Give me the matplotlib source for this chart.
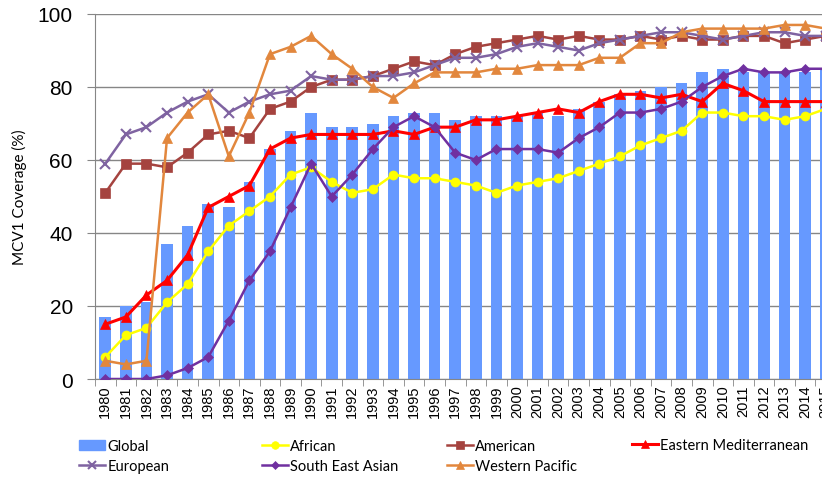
import matplotlib
matplotlib.use("Agg")
import matplotlib.pyplot as plt
from matplotlib.lines import Line2D
from matplotlib.patches import Patch

years = list(range(1980, 2016))

glob = [17, 20, 21, 37, 42, 48, 47, 54, 63, 68, 73, 69, 69, 70, 72, 73, 73, 71,
        72, 72, 72, 73, 72, 74, 76, 78, 79, 80, 81, 84, 85, 84, 84, 84, 84, 85]
african = [6, 12, 14, 21, 26, 35, 42, 46, 50, 56, 58, 54, 51, 52, 56, 55, 55, 54,
           53, 51, 53, 54, 55, 57, 59, 61, 64, 66, 68, 73, 73, 72, 72, 71, 72, 74]
american = [51, 59, 59, 58, 62, 67, 68, 66, 74, 76, 80, 82, 82, 83, 85, 87, 86, 89,
            91, 92, 93, 94, 93, 94, 93, 93, 94, 93, 94, 93, 93, 94, 94, 92, 93, 94]
east_med = [15, 17, 23, 27, 34, 47, 50, 53, 63, 66, 67, 67, 67, 67, 68, 67, 69, 69,
            71, 71, 72, 73, 74, 73, 76, 78, 78, 77, 78, 76, 81, 79, 76, 76, 76, 76]
european = [59, 67, 69, 73, 76, 78, 73, 76, 78, 79, 83, 82, 82, 83, 83, 84, 86, 88,
            88, 89, 91, 92, 91, 90, 92, 93, 94, 95, 95, 94, 93, 94, 95, 95, 94, 94]
se_asian = [0, 0, 0, 1, 3, 6, 16, 27, 35, 47, 59, 50, 56, 63, 69, 72, 69, 62,
            60, 63, 63, 63, 62, 66, 69, 73, 73, 74, 76, 80, 83, 85, 84, 84, 85, 85]
w_pacific = [5, 4, 5, 66, 73, 78, 61, 73, 89, 91, 94, 89, 85, 80, 77, 81, 84, 84,
             84, 85, 85, 86, 86, 86, 88, 88, 92, 92, 95, 96, 96, 96, 96, 97, 97, 96]

series = [
    ("African", african, "#FFFF00", "o", 6.5, 1.8),
    ("American", american, "#A5433F", "s", 6.5, 1.8),
    ("Eastern Mediterranean", east_med, "#FF0000", "^", 6.5, 2.2),
    ("European", european, "#7F63A1", "x", 7, 1.8),
    ("South East Asian", se_asian, "#7030A0", "D", 5, 1.8),
    ("Western Pacific", w_pacific, "#E2873D", "^", 7, 1.8),
]

fig = plt.figure(figsize=(8.22, 4.81), dpi=100)
ax = fig.add_axes([95 / 822, 1 - 380 / 481, 741 / 822, 365 / 481])

ax.bar(years, glob, width=0.57, color="#6699FF", zorder=2)
handles = {"Global": Patch(color="#6699FF")}
for name, vals, col, mk, ms, lw in series:
    mew = 1.5 if mk == "x" else 0.5
    ax.plot(years, vals, color=col, marker=mk, markersize=ms, linewidth=lw,
            markeredgewidth=mew, zorder=3)
    handles[name] = Line2D([], [], color=col, marker=mk, markersize=ms - 1,
                           linewidth=lw, markeredgewidth=mew)

ax.set_xlim(1979.5, 2015.5)
ax.set_ylim(0, 100)
ax.set_yticks(range(0, 101, 20))
ax.set_yticklabels([str(v) for v in range(0, 101, 20)], fontsize=15,
                   family="Liberation Sans")
ax.set_xticks(years)
ax.set_xticklabels([str(y) for y in years], rotation=90, fontsize=10.5,
                   family="Liberation Sans")
ax.set_xticks([y + 0.5 for y in range(1979, 2016)], minor=True)
ax.tick_params(axis="x", which="major", length=0, pad=4)
ax.tick_params(axis="x", which="minor", length=5, color="#868686")
ax.tick_params(axis="y", length=6, color="#868686", pad=10)
ax.yaxis.grid(True, color="#868686", linewidth=1, zorder=0)
ax.set_axisbelow(True)
for s in ["top", "right"]:
    ax.spines[s].set_visible(False)
for s in ["left", "bottom"]:
    ax.spines[s].set_color("#868686")
ax.set_ylabel("MCV1 Coverage (%)", fontsize=11, family="Lato", labelpad=8)

# legend laid out by hand in four evenly spaced columns
cols = [(["Global", "European"], 79), (["African", "South East Asian"], 262),
        (["American", "Western Pacific"], 447), (["Eastern Mediterranean"], 632)]
for names, x in cols:
    yc = 457 if len(names) == 2 else 446
    fig.legend([handles[n] for n in names], names, loc="center left",
               bbox_to_anchor=(x / 822, 1 - yc / 481), frameon=False,
               borderpad=0, borderaxespad=0, handlelength=1.8, handletextpad=0.15,
               labelspacing=0.45, prop={"family": "Lato", "size": 10.5})

fig.savefig("out.png", dpi=100)
